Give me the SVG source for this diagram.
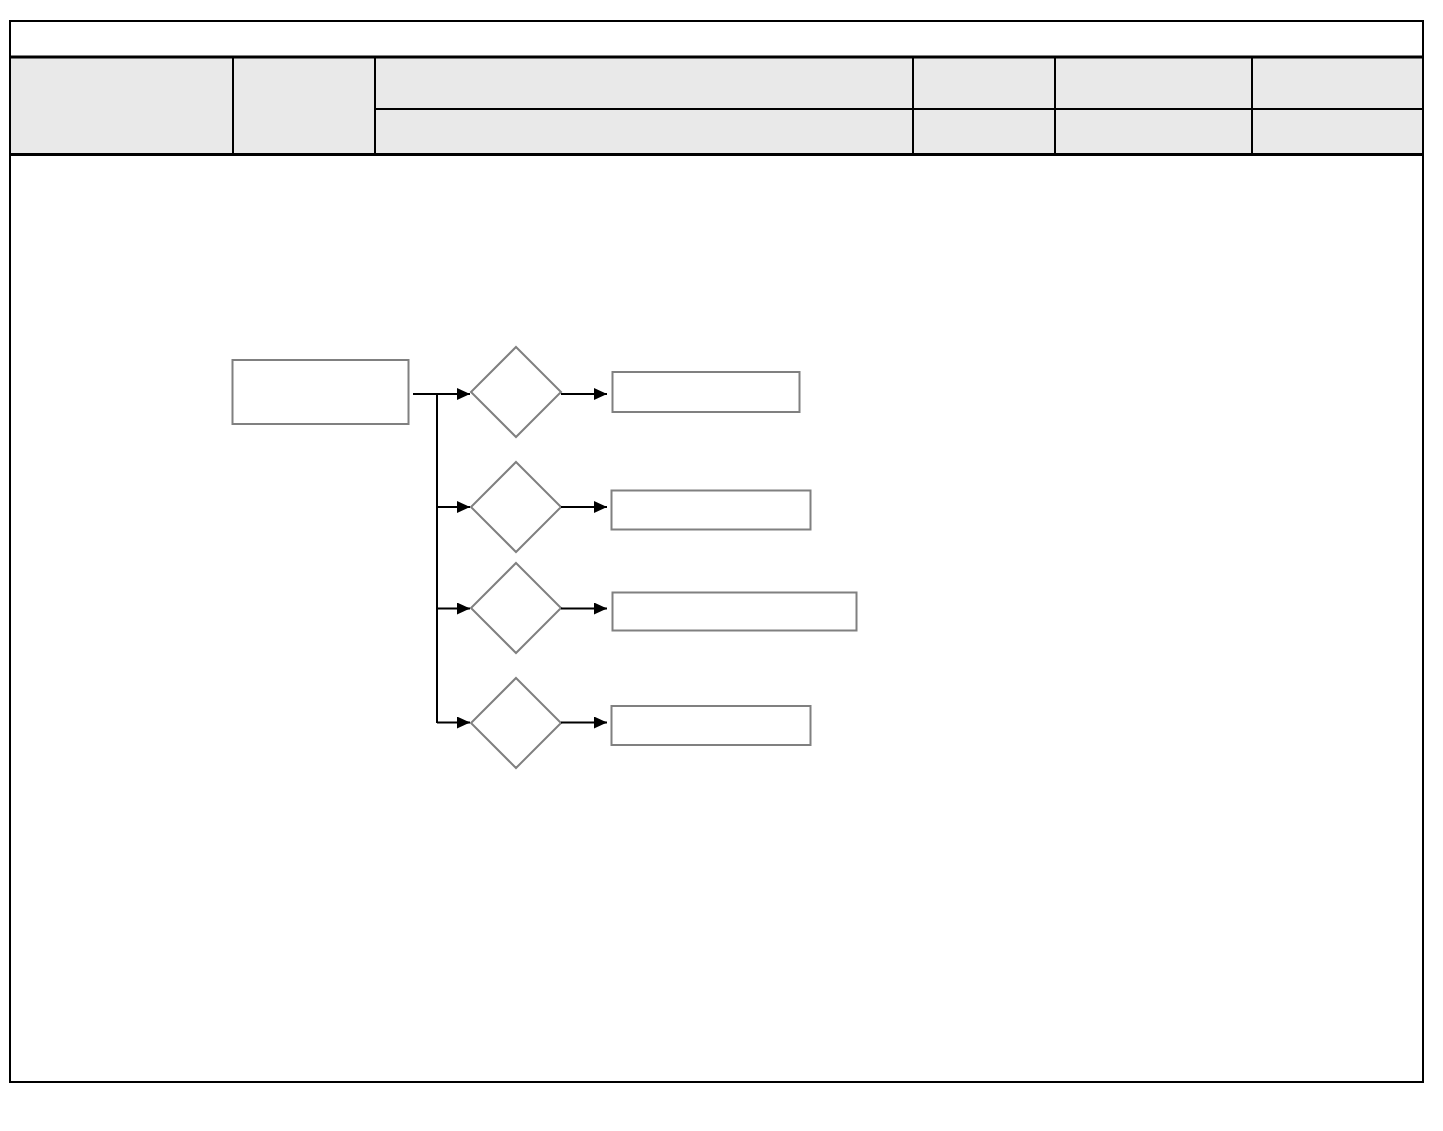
<svg xmlns="http://www.w3.org/2000/svg" width="1443" height="1131" viewBox="0 0 1443 1131">
<style>
.hdr{fill:#e9e9e9;stroke:none}
.thick{stroke:#000;stroke-width:3;fill:none}
.thin{stroke:#000;stroke-width:2;fill:none}
.node{fill:#fff;stroke:#808080;stroke-width:2}
.conn{stroke:#000;stroke-width:2;fill:none}
</style>
<defs>
<marker id="ah" markerWidth="13" markerHeight="12" refX="13" refY="6" orient="auto" markerUnits="userSpaceOnUse">
<path d="M0,0 L13,6 L0,12 Z" fill="#000"/>
</marker>
</defs>
<rect width="1443" height="1131" fill="#fff"/>
<g id="frame">
<rect class="hdr" x="11" y="58" width="1411" height="96"/>
<rect class="thin" x="10" y="21" width="1413" height="1061" stroke-width="2.5"/>
<line class="thick" x1="10" y1="57" x2="1423" y2="57"/>
<line class="thick" x1="10" y1="154.5" x2="1423" y2="154.5"/>
<line class="thin" x1="375" y1="109" x2="1423" y2="109"/>
<line class="thin" x1="233" y1="57" x2="233" y2="154"/>
<line class="thin" x1="375" y1="57" x2="375" y2="154"/>
<line class="thin" x1="913" y1="57" x2="913" y2="154"/>
<line class="thin" x1="1055" y1="57" x2="1055" y2="154"/>
<line class="thin" x1="1252" y1="57" x2="1252" y2="154"/>
</g>
<g id="start"><rect class="node" x="232.5" y="360" width="176" height="64"/></g>
<g id="d1"><polygon class="node" points="516,347 561,392 516,437 471,392"/></g>
<g id="d2"><polygon class="node" points="516,462 561,507 516,552 471,507"/></g>
<g id="d3"><polygon class="node" points="516,563 561,608 516,653 471,608"/></g>
<g id="d4"><polygon class="node" points="516,678 561,723 516,768 471,723"/></g>
<g id="r1"><rect class="node" x="612.5" y="372" width="187" height="40"/></g>
<g id="r2"><rect class="node" x="611.5" y="490.5" width="199" height="39"/></g>
<g id="r3"><rect class="node" x="612.5" y="592.5" width="244" height="38"/></g>
<g id="r4"><rect class="node" x="611.5" y="706" width="199" height="39"/></g>
<g id="connectors">
<line class="conn" x1="413" y1="394" x2="470" y2="394" marker-end="url(#ah)"/>
<line class="conn" x1="437" y1="394" x2="437" y2="723" stroke-width="1.5"/>
<line class="conn" x1="437" y1="507" x2="470" y2="507" marker-end="url(#ah)"/>
<line class="conn" x1="437" y1="608.5" x2="470" y2="608.5" marker-end="url(#ah)"/>
<line class="conn" x1="437" y1="722.5" x2="470" y2="722.5" marker-end="url(#ah)"/>
<line class="conn" x1="561" y1="394" x2="607" y2="394" marker-end="url(#ah)"/>
<line class="conn" x1="561" y1="507" x2="607" y2="507" marker-end="url(#ah)"/>
<line class="conn" x1="561" y1="608.5" x2="607" y2="608.5" marker-end="url(#ah)"/>
<line class="conn" x1="561" y1="722.5" x2="607" y2="722.5" marker-end="url(#ah)"/>
</g>
</svg>
